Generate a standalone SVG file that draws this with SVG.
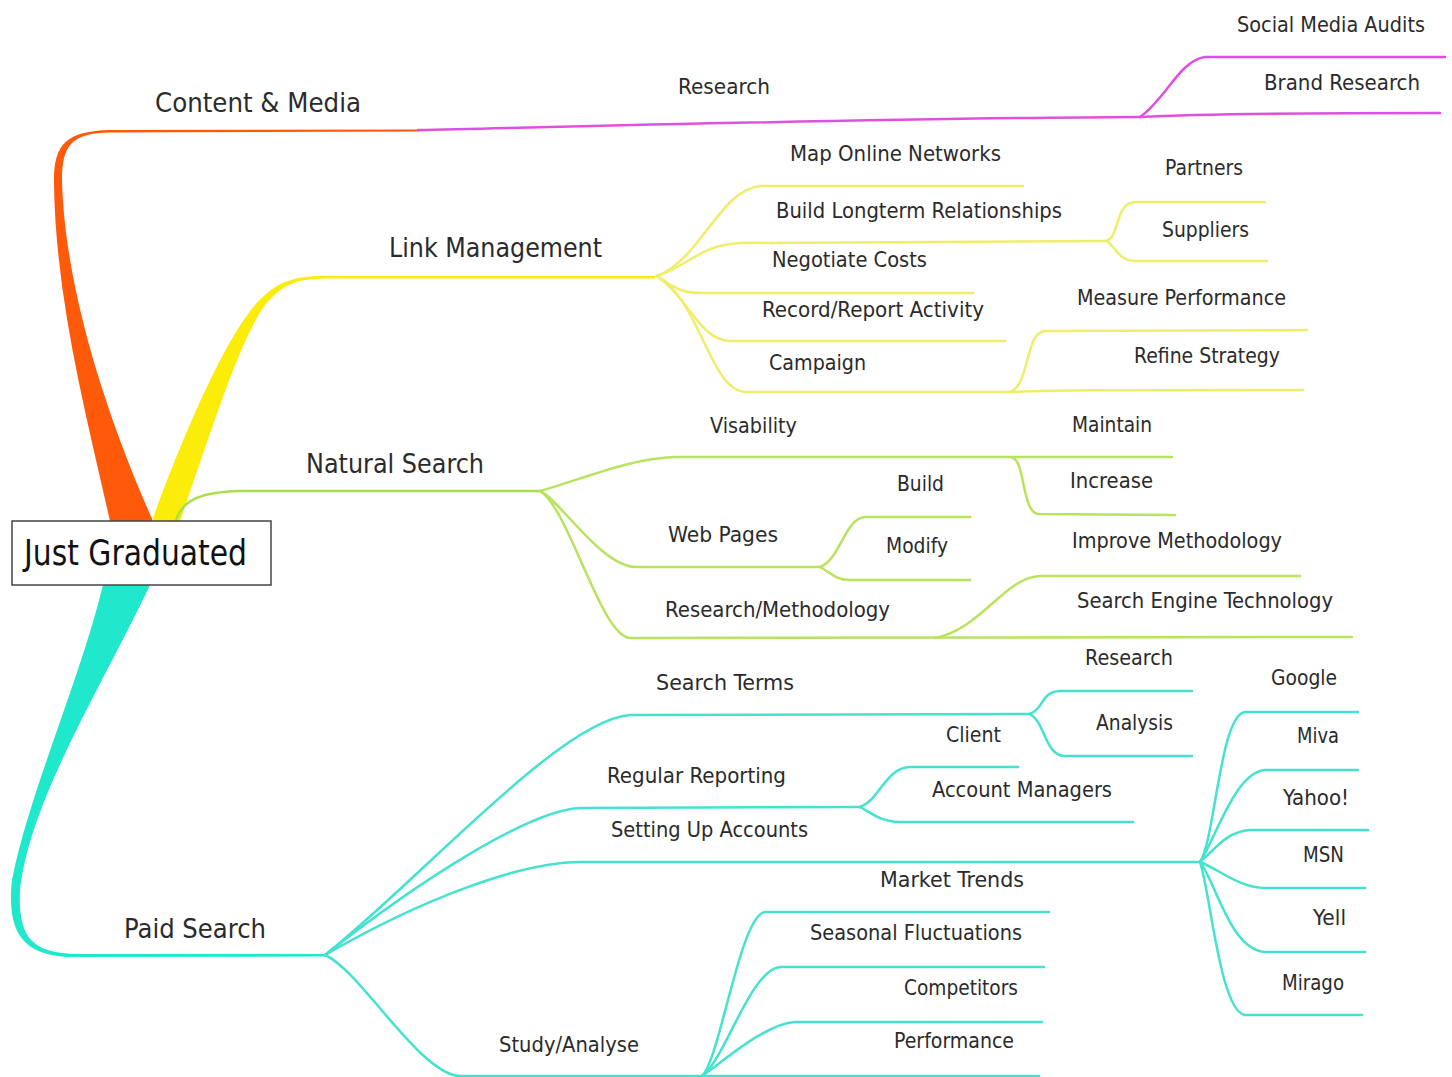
<svg xmlns="http://www.w3.org/2000/svg" width="1452" height="1077" viewBox="0 0 1452 1077">
<style>
text{font-family:"DejaVu Sans Condensed","DejaVu Sans",sans-serif;fill:#2b2b2b;}
.t{font-size:22px;}
.tl{font-size:27px;}
.root{font-size:36px;fill:#111;}
.c{fill:none;stroke-width:2.5;stroke-linecap:round;}
.m{stroke:#e050e0;}
.y{stroke:#eeee6a;}
.g{stroke:#b8e35e;}
.q{stroke:#45e3cf;}
</style>
<rect width="1452" height="1077" fill="#fff"/>
<g id="connectors">
  <path d="M110,521 C85,410 56,300 54,185 C53,145 65,131 110,130 L420,129.5 L420,131.5 L110,132.5 C72,133 62,145 62,180 C64,270 95,390 153,521 Z" fill="#ff5a0a"/>
  <path d="M152,521 C185,430 225,340 255,305 C275,283 290,276 325,276 L655,276 L655,278.5 L325,278.5 C295,279 282,285 265,305 C240,340 215,420 180,521 Z" fill="#fcec0a"/>
  <path d="M176,520 C183,500 200,492 240,491 L540,491" class="c" stroke="#a6e04a" stroke-width="3"/>
  <path d="M103,585 C80,680 30,790 12,880 C6,935 25,957 75,957 L325,956.5 L325,954 L75,954 C30,953 18,935 20,890 C30,800 100,690 150,585 Z" fill="#1fe8cc"/>
  <path d="M418,130 C600,126 900,118 1140,117" class="c m"/>
  <path d="M1140,117 C1200,114 1300,113 1440,113" class="c m"/>
  <path d="M1140,117 C1165,100 1180,60 1205,57 L1445,57" class="c m" stroke-width="2"/>
  <path d="M657,276 C700,260 720,190 760,186 L1023,186" class="c y"/>
  <path d="M657,276 C690,265 700,245 740,243 L1107,241" class="c y"/>
  <path d="M1107,241 C1120,235 1115,203 1135,202 L1265,202" class="c y"/>
  <path d="M1107,241 C1118,250 1118,260 1135,261 L1267,261" class="c y"/>
  <path d="M657,276 C670,285 680,293 700,293 L973,293" class="c y"/>
  <path d="M657,276 C690,300 700,340 730,341 L1005,341" class="c y"/>
  <path d="M657,276 C700,300 710,390 745,392 L1010,392" class="c y"/>
  <path d="M1010,392 C1030,385 1025,332 1045,331 L1307,330" class="c y"/>
  <path d="M1010,392 C1050,390 1100,390 1303,390" class="c y"/>
  <path d="M540,491 C580,480 630,458 675,457 L1172,457" class="c g"/>
  <path d="M1013,458 C1025,462 1022,512 1038,514 L1175,515" class="c g"/>
  <path d="M540,491 C560,500 600,565 635,567 L820,567" class="c g"/>
  <path d="M820,567 C840,560 845,518 865,517 L970,517" class="c g"/>
  <path d="M820,567 C830,572 835,580 850,580 L970,580" class="c g"/>
  <path d="M540,491 C570,510 600,635 630,638 L1352,637" class="c g"/>
  <path d="M935,638 C980,630 1005,577 1040,576 L1300,576" class="c g"/>
  <path d="M325,955 C420,880 560,720 630,715 L1030,714" class="c q"/>
  <path d="M1030,714 C1045,708 1040,692 1060,691 L1192,691" class="c q"/>
  <path d="M1030,714 C1045,722 1045,756 1065,756 L1192,756" class="c q"/>
  <path d="M325,955 C420,880 530,810 580,808 L860,807" class="c q"/>
  <path d="M860,807 C880,800 885,768 910,767 L1018,767" class="c q"/>
  <path d="M860,807 C870,812 880,822 900,822 L1133,822" class="c q"/>
  <path d="M325,955 C420,900 520,862 580,862 L1200,862" class="c q"/>
  <path d="M1200,862 C1215,840 1220,715 1245,712 L1358,712" class="c q"/>
  <path d="M1200,862 C1215,840 1235,772 1265,770 L1358,770" class="c q"/>
  <path d="M1200,862 C1215,850 1225,832 1250,830 L1368,830" class="c q"/>
  <path d="M1200,862 C1220,870 1240,888 1265,888 L1365,888" class="c q"/>
  <path d="M1200,862 C1215,880 1230,950 1265,952 L1365,952" class="c q"/>
  <path d="M1200,862 C1210,890 1220,1012 1245,1015 L1362,1015" class="c q"/>
  <path d="M325,955 C360,970 420,1075 460,1076 L702,1076" class="c q"/>
  <path d="M702,1076 C720,1060 740,915 765,912 L1049,912" class="c q"/>
  <path d="M702,1076 C725,1060 750,970 780,967 L1044,967" class="c q"/>
  <path d="M702,1076 C725,1060 765,1024 795,1022 L1042,1022" class="c q"/>
  <path d="M702,1076 L1039,1076" class="c q"/>
</g>
<g id="n-root"><rect x="12" y="521" width="259" height="64" fill="#fff" stroke="#444" stroke-width="1.5"/><text class="root" x="24" y="565" textLength="223" lengthAdjust="spacingAndGlyphs">Just Graduated</text></g>
<g id="n-content"><text class="tl" x="155" y="112" textLength="206" lengthAdjust="spacingAndGlyphs">Content &amp; Media</text></g>
<g id="n-research1"><text class="t" x="678" y="94" textLength="92" lengthAdjust="spacingAndGlyphs">Research</text></g>
<g id="n-sma"><text class="t" x="1237" y="32" textLength="188" lengthAdjust="spacingAndGlyphs">Social Media Audits</text></g>
<g id="n-brand"><text class="t" x="1264" y="90" textLength="156" lengthAdjust="spacingAndGlyphs">Brand Research</text></g>
<g id="n-link"><text class="tl" x="389" y="257" textLength="213" lengthAdjust="spacingAndGlyphs">Link Management</text></g>
<g id="n-map"><text class="t" x="790" y="161" textLength="211" lengthAdjust="spacingAndGlyphs">Map Online Networks</text></g>
<g id="n-build-lt"><text class="t" x="776" y="218" textLength="286" lengthAdjust="spacingAndGlyphs">Build Longterm Relationships</text></g>
<g id="n-partners"><text class="t" x="1165" y="175" textLength="78" lengthAdjust="spacingAndGlyphs">Partners</text></g>
<g id="n-suppliers"><text class="t" x="1162" y="237" textLength="87" lengthAdjust="spacingAndGlyphs">Suppliers</text></g>
<g id="n-negotiate"><text class="t" x="772" y="267" textLength="155" lengthAdjust="spacingAndGlyphs">Negotiate Costs</text></g>
<g id="n-record"><text class="t" x="762" y="317" textLength="222" lengthAdjust="spacingAndGlyphs">Record/Report Activity</text></g>
<g id="n-measure"><text class="t" x="1077" y="305" textLength="209" lengthAdjust="spacingAndGlyphs">Measure Performance</text></g>
<g id="n-campaign"><text class="t" x="769" y="370" textLength="97" lengthAdjust="spacingAndGlyphs">Campaign</text></g>
<g id="n-refine"><text class="t" x="1134" y="363" textLength="146" lengthAdjust="spacingAndGlyphs">Refine Strategy</text></g>
<g id="n-natural"><text class="tl" x="306" y="473" textLength="178" lengthAdjust="spacingAndGlyphs">Natural Search</text></g>
<g id="n-visability"><text class="t" x="710" y="433" textLength="87" lengthAdjust="spacingAndGlyphs">Visability</text></g>
<g id="n-maintain"><text class="t" x="1072" y="432" textLength="80" lengthAdjust="spacingAndGlyphs">Maintain</text></g>
<g id="n-increase"><text class="t" x="1070" y="488" textLength="83" lengthAdjust="spacingAndGlyphs">Increase</text></g>
<g id="n-webpages"><text class="t" x="668" y="542" textLength="110" lengthAdjust="spacingAndGlyphs">Web Pages</text></g>
<g id="n-build"><text class="t" x="897" y="491" textLength="47" lengthAdjust="spacingAndGlyphs">Build</text></g>
<g id="n-modify"><text class="t" x="886" y="553" textLength="62" lengthAdjust="spacingAndGlyphs">Modify</text></g>
<g id="n-resmeth"><text class="t" x="665" y="617" textLength="225" lengthAdjust="spacingAndGlyphs">Research/Methodology</text></g>
<g id="n-improve"><text class="t" x="1072" y="548" textLength="210" lengthAdjust="spacingAndGlyphs">Improve Methodology</text></g>
<g id="n-set"><text class="t" x="1077" y="608" textLength="256" lengthAdjust="spacingAndGlyphs">Search Engine Technology</text></g>
<g id="n-paid"><text class="tl" x="124" y="938" textLength="142" lengthAdjust="spacingAndGlyphs">Paid Search</text></g>
<g id="n-searchterms"><text class="t" x="656" y="690" textLength="138" lengthAdjust="spacingAndGlyphs">Search Terms</text></g>
<g id="n-client"><text class="t" x="946" y="742" textLength="55" lengthAdjust="spacingAndGlyphs">Client</text></g>
<g id="n-research2"><text class="t" x="1085" y="665" textLength="88" lengthAdjust="spacingAndGlyphs">Research</text></g>
<g id="n-analysis"><text class="t" x="1096" y="730" textLength="77" lengthAdjust="spacingAndGlyphs">Analysis</text></g>
<g id="n-regular"><text class="t" x="607" y="783" textLength="179" lengthAdjust="spacingAndGlyphs">Regular Reporting</text></g>
<g id="n-accmgr"><text class="t" x="932" y="797" textLength="180" lengthAdjust="spacingAndGlyphs">Account Managers</text></g>
<g id="n-setting"><text class="t" x="611" y="837" textLength="197" lengthAdjust="spacingAndGlyphs">Setting Up Accounts</text></g>
<g id="n-google"><text class="t" x="1271" y="685" textLength="66" lengthAdjust="spacingAndGlyphs">Google</text></g>
<g id="n-miva"><text class="t" x="1297" y="743" textLength="42" lengthAdjust="spacingAndGlyphs">Miva</text></g>
<g id="n-yahoo"><text class="t" x="1283" y="805" textLength="66" lengthAdjust="spacingAndGlyphs">Yahoo!</text></g>
<g id="n-msn"><text class="t" x="1303" y="862" textLength="41" lengthAdjust="spacingAndGlyphs">MSN</text></g>
<g id="n-yell"><text class="t" x="1313" y="925" textLength="33" lengthAdjust="spacingAndGlyphs">Yell</text></g>
<g id="n-mirago"><text class="t" x="1282" y="990" textLength="62" lengthAdjust="spacingAndGlyphs">Mirago</text></g>
<g id="n-study"><text class="t" x="499" y="1052" textLength="140" lengthAdjust="spacingAndGlyphs">Study/Analyse</text></g>
<g id="n-market"><text class="t" x="880" y="887" textLength="144" lengthAdjust="spacingAndGlyphs">Market Trends</text></g>
<g id="n-seasonal"><text class="t" x="810" y="940" textLength="212" lengthAdjust="spacingAndGlyphs">Seasonal Fluctuations</text></g>
<g id="n-competitors"><text class="t" x="904" y="995" textLength="114" lengthAdjust="spacingAndGlyphs">Competitors</text></g>
<g id="n-performance"><text class="t" x="894" y="1048" textLength="120" lengthAdjust="spacingAndGlyphs">Performance</text></g>
</svg>
